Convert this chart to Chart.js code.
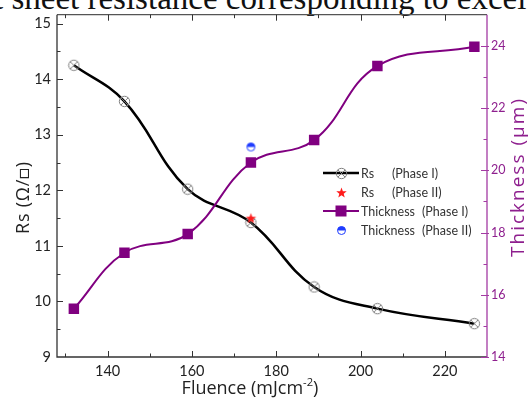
<!DOCTYPE html>
<html>
<head>
<meta charset="utf-8">
<script src="https://cdn.jsdelivr.net/npm/chart.js@4.4.1/dist/chart.umd.min.js"></script>
<style>
  html, body { margin: 0; padding: 0; background: #fff; overflow: hidden; }
  #wrap { position: relative; width: 528px; height: 401px; overflow: hidden; }
  #cut { position: absolute; left: -6px; top: -18px; white-space: nowrap;
         font-family: "Liberation Serif", "DejaVu Serif", serif; font-size: 33px; line-height: 33px; color: #111; }
  canvas { position: absolute; left: 0; top: 0; }
</style>
</head>
<body>
<div id="wrap">
  <div id="cut">t sheet resistance corresponding to excel</div>
  <canvas id="c" width="528" height="401"></canvas>
</div>
<script>
// ---- data ----
const fluence = [132, 144, 159, 174, 189, 204, 227];
const rsPhase1 = [14.25, 13.6, 12.02, 11.42, 10.26, 9.87, 9.6];
const thicknessPhase1 = [15.55, 17.35, 17.95, 20.25, 20.97, 23.35, 23.97];
const fluencePhase2 = [174];
const rsPhase2 = [11.5];
const thicknessPhase2 = [20.75];
const xTicksMajor = [140, 160, 180, 200, 220];
const yLeftTicks = [9, 10, 11, 12, 13, 14, 15];
const yRightTicks = [14, 16, 18, 20, 22, 24];

const PURPLE = '#800080';
const RAXIS = '#a33aa3';
const RTEXT = '#8e1f8e';
const FONT = 'Lato, "Open Sans", sans-serif';
const TFONT = '"Open Sans", Lato, sans-serif';

function pts(xs, ys) { return xs.map((x, i) => ({ x: x, y: ys[i] })); }

// marker images
function mk(w, h, fn) { const c = document.createElement('canvas'); c.width = w; c.height = h; fn(c.getContext('2d')); return c; }
const rsMarker = mk(13, 13, g => {
  g.strokeStyle = '#808080'; g.lineWidth = 1;
  g.beginPath(); g.arc(6.5, 6.5, 5.2, 0, Math.PI * 2); g.stroke();
  g.beginPath(); g.moveTo(2.8, 2.8); g.lineTo(10.2, 10.2); g.moveTo(10.2, 2.8); g.lineTo(2.8, 10.2); g.stroke();
});
const starMarker = mk(13, 13, g => {
  g.fillStyle = '#ff1a1a'; g.beginPath();
  for (let i = 0; i < 10; i++) {
    const r = i % 2 === 0 ? 5.5 : 2.3;
    const a = -Math.PI / 2 + i * Math.PI / 5;
    const px = 6.5 + r * Math.cos(a), py = 7 + r * Math.sin(a);
    i === 0 ? g.moveTo(px, py) : g.lineTo(px, py);
  }
  g.closePath(); g.fill();
});
const halfMarker = mk(11, 11, g => {
  g.fillStyle = '#fff'; g.beginPath(); g.arc(5.5, 5.5, 4, 0, Math.PI * 2); g.fill();
  g.fillStyle = '#1f3cff'; g.beginPath(); g.arc(5.5, 5.5, 4, Math.PI, Math.PI * 2); g.closePath(); g.fill();
  g.strokeStyle = '#1f3cff'; g.lineWidth = 1; g.beginPath(); g.arc(5.5, 5.5, 4, 0, Math.PI * 2); g.stroke();
});

// set font size, then stretch spacing to reach target width
function spaced(g, text, size, family, width) {
  g.font = size + 'px ' + family;
  g.letterSpacing = '0px';
  const w = g.measureText(text).width;
  const sp = Math.max(0, (width - w) / Math.max(1, text.length - 1));
  g.letterSpacing = sp + 'px';
  return w + sp * (text.length - 1);
}

// custom ticks / frame / titles / legend
const decor = {
  id: 'decor',
  afterDraw(chart) {
    const g = chart.ctx, a = chart.chartArea;
    const sx = chart.scales.x, sy = chart.scales.y, sr = chart.scales.y2;
    g.save();
    // frame
    g.lineWidth = 1.3;
    g.strokeStyle = '#555';
    g.beginPath(); g.moveTo(a.left, a.top); g.lineTo(a.right, a.top); g.stroke();
    g.strokeStyle = '#333';
    g.beginPath(); g.moveTo(a.left, a.top); g.lineTo(a.left, a.bottom); g.lineTo(a.right, a.bottom); g.stroke();
    g.strokeStyle = RAXIS;
    g.beginPath(); g.moveTo(a.right, a.top); g.lineTo(a.right, a.bottom + 1); g.stroke();
    // x ticks
    g.lineWidth = 1; g.strokeStyle = '#333';
    for (let v = 130; v <= 230; v += 10) {
      const p = Math.round(sx.getPixelForValue(v)) + 0.5;
      if (p <= a.left + 1 || p >= a.right - 1) continue;
      const L = v % 20 === 0 ? 6 : 3.5;
      g.beginPath(); g.moveTo(p, a.bottom); g.lineTo(p, a.bottom - L); g.stroke();
      g.beginPath(); g.moveTo(p, a.top); g.lineTo(p, a.top + L); g.stroke();
    }
    // left y ticks
    for (let v = 9; v <= 15.01; v += 0.5) {
      const p = Math.round(sy.getPixelForValue(v)) + 0.5;
      if (p >= a.bottom - 1) continue;
      const L = Math.abs(v - Math.round(v)) < 0.01 ? 6 : 3.5;
      g.beginPath(); g.moveTo(a.left, p); g.lineTo(a.left + L, p); g.stroke();
    }
    // right y ticks
    g.strokeStyle = RAXIS;
    for (let v = 14; v <= 24.01; v += 1) {
      const p = Math.round(sr.getPixelForValue(v)) + 0.5;
      const L = v % 2 === 0 ? 6 : 3.5;
      g.beginPath(); g.moveTo(a.right - L, p); g.lineTo(a.right + (v % 2 === 0 ? 2 : 0), p); g.stroke();
    }
    // axis titles
    g.textBaseline = 'alphabetic'; g.textAlign = 'left';
    // x title with superscript
    const base = 'Fluence (mJcm', sup = '-2', end = ')';
    const fs = 18;
    g.font = fs + 'px ' + TFONT;
    const wb = g.measureText(base).width, we = g.measureText(end).width;
    g.font = (fs * 0.62) + 'px ' + TFONT;
    const ws = g.measureText(sup).width;
    let tx = 250 - (wb + ws + we) / 2;
    g.fillStyle = '#222';
    g.font = fs + 'px ' + TFONT; g.fillText(base, tx, 394);
    g.font = (fs * 0.62) + 'px ' + TFONT; g.fillText(sup, tx + wb, 394 - fs * 0.42);
    g.font = fs + 'px ' + TFONT; g.fillText(end, tx + wb + ws, 394);
    // left title
    const lt = 'Rs (Ω/□)';
    g.save();
    let w = spaced(g, lt, 18, TFONT, 72);
    g.translate(29, 198); g.rotate(-Math.PI / 2); g.fillText(lt, -w / 2, 0);
    g.restore();
    // right title
    const rt = 'Thickness (µm)';
    g.save();
    g.fillStyle = RTEXT;
    w = spaced(g, rt, 19, TFONT, 158);
    g.translate(524, 178); g.rotate(-Math.PI / 2); g.fillText(rt, -w / 2, 0);
    g.restore();
    g.letterSpacing = '0px';
    // legend
    const rows = chart.data.datasets;
    const phaseX = [392, 392, 422, 422];
    let y = 173;
    const x0 = 323, x1 = 359;
    g.textAlign = 'left'; g.textBaseline = 'middle';
    rows.forEach((ds, i) => {
      if (ds.showLine !== false) {
        g.strokeStyle = ds.borderColor; g.lineWidth = ds.borderWidth;
        g.beginPath(); g.moveTo(x0, y); g.lineTo(x1, y); g.stroke();
      }
      const cx = (x0 + x1) / 2;
      if (ds.pointStyle instanceof HTMLCanvasElement) {
        g.drawImage(ds.pointStyle, Math.round(cx - ds.pointStyle.width / 2), Math.round(y - ds.pointStyle.height / 2));
      } else {
        g.fillStyle = ds.pointBackgroundColor;
        g.fillRect(cx - 5.5, y - 5.5, 11, 11);
      }
      const parts = ds.label.split('\t');
      g.fillStyle = '#333'; g.font = '12.5px ' + FONT;
      g.fillText(parts[0], 361, y + 1);
      g.fillText(parts[1], phaseX[i], y + 1);
      y += 19;
    });
    g.restore();
  }
};

const chart = new Chart(document.getElementById('c'), {
  type: 'scatter',
  data: {
    datasets: [
      { label: 'Rs\t(Phase I)', data: pts(fluence, rsPhase1), yAxisID: 'y', showLine: true,
        borderColor: '#000', borderWidth: 2.5, tension: 0.4,
        pointStyle: rsMarker, pointRadius: 6, order: 2 },
      { label: 'Rs\t(Phase II)', data: pts(fluencePhase2, rsPhase2), yAxisID: 'y', showLine: false,
        pointStyle: starMarker, pointRadius: 6, order: 0 },
      { label: 'Thickness\t(Phase I)', data: pts(fluence, thicknessPhase1), yAxisID: 'y2', showLine: true,
        borderColor: PURPLE, borderWidth: 2, tension: 0.4,
        pointStyle: 'rect', pointRadius: 7.4, pointBackgroundColor: PURPLE, pointBorderColor: PURPLE, pointBorderWidth: 0, order: 1 },
      { label: 'Thickness\t(Phase II)', data: pts(fluencePhase2, thicknessPhase2), yAxisID: 'y2', showLine: false,
        pointStyle: halfMarker, pointRadius: 5, order: 0 }
    ]
  },
  options: {
    responsive: false, animation: false, devicePixelRatio: 1,
    layout: { padding: { top: 13, left: 0, right: 0, bottom: 0 } },
    plugins: { legend: { display: false }, tooltip: { enabled: false } },
    scales: {
      x: {
        type: 'linear', min: 128, max: 230,
        afterBuildTicks: s => { s.ticks = xTicksMajor.map(v => ({ value: v })); },
        afterFit: s => { s.height = 44; },
        grid: { display: false, drawTicks: false }, border: { display: false },
        ticks: { padding: 6, color: '#222', font: { family: FONT, size: 14.5 } },
        title: { display: false }
      },
      y: {
        position: 'left', min: 9, max: 15.16,
        afterBuildTicks: s => { s.ticks = yLeftTicks.map(v => ({ value: v })); },
        afterFit: s => { s.width = 57; },
        grid: { display: false, drawTicks: false }, border: { display: false },
        ticks: { padding: 6, color: '#222', font: { family: FONT, size: 14.5 } },
        title: { display: false }
      },
      y2: {
        position: 'right', min: 14, max: 25,
        afterBuildTicks: s => { s.ticks = yRightTicks.map(v => ({ value: v })); },
        afterFit: s => { s.width = 41; },
        grid: { display: false, drawTicks: false }, border: { display: false },
        ticks: { padding: 4, color: RTEXT, font: { family: FONT, size: 12.5 } },
        title: { display: false }
      }
    }
  },
  plugins: [decor]
});
</script>
</body>
</html>
